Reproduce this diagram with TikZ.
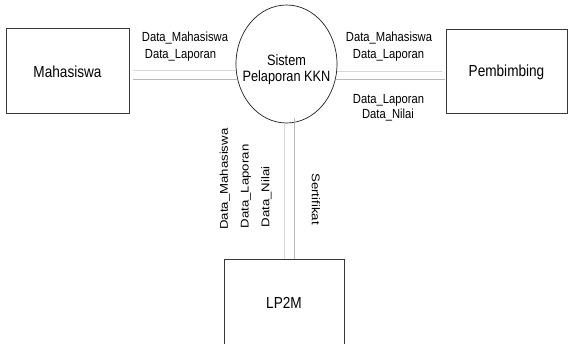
\documentclass[tikz,border=0pt]{standalone}
\usepackage{fontspec}
\setmainfont{Liberation Sans}[FakeStretch=0.85]
\newfontfamily\vfont{Liberation Sans}
\usetikzlibrary{shapes.geometric}
\definecolor{boxline}{RGB}{55,55,55}
\definecolor{procline}{RGB}{30,30,30}
\definecolor{flowc}{RGB}{185,185,185}
\definecolor{flowlc}{RGB}{215,215,215}
\newcommand{\vtxt}[1]{\scalebox{1}[0.85]{\vfont #1}}
\begin{document}
\begin{tikzpicture}[x=1pt,y=-1pt,
  entity/.style={draw=boxline, line width=0.8pt, inner sep=0pt, text depth=0pt, font=\fontsize{16}{18}\selectfont},
  proc/.style={ellipse, draw=procline, line width=0.7pt, inner sep=0pt, minimum width=101pt, minimum height=118pt},
  proctext/.style={inner sep=0pt, align=center, font=\fontsize{15}{16}\selectfont},
  flow/.style={draw=flowc, line width=0.7pt},
  flowlight/.style={draw=flowlc, line width=0.7pt},
  lbl/.style={inner sep=0pt, font=\fontsize{13.2}{15}\selectfont}]
\useasboundingbox (0,0) rectangle (568,343);
\clip (0,0) rectangle (568,343);
% entities
\node[entity, minimum width=123pt, minimum height=85pt, text height=13pt] (mhs) at (67.5,70.5) {Mahasiswa};
\node[entity, minimum width=121pt, minimum height=84pt, text height=11pt] (pb) at (506.5,71) {Pembimbing};
\node[entity, minimum width=120pt, minimum height=94pt, text height=5pt] (lp) at (284,306) {LP2M};
\node[proc] (sys) at (286.5,64) {};
\node[proctext] (systxt) at (286.5,69.5) {Sistem\\Pelaporan KKN};
% flows left
\coordinate (l1) at ([xshift=4pt]mhs.east);
\coordinate (l2) at ([xshift=4pt,yshift=-8.5pt]mhs.east);
\draw[flowlight] (l1) -- (l1 -| sys.188);
\draw[flow] (l2) -- (l2 -| sys.196);
% flows right
\coordinate (r1) at ([xshift=-4pt]pb.west);
\coordinate (r2) at ([xshift=-1pt,yshift=-8pt]pb.west);
\draw[flowlight] (r1) -- (r1 -| sys.352);
\draw[flow] (r2) -- (r2 -| sys.344);
% flows down
\coordinate (d1) at (lp.north);
\coordinate (d2) at ([xshift=10pt]lp.north);
\draw[flowlight] (d1) -- (d1 |- sys.south);
\draw[flow] (d2) -- (d2 |- sys.292);
% labels
\node[lbl] (t1) at (185,38) {Data\_Mahasiswa};
\node[lbl] (t2) at (180.5,55) {Data\_Laporan};
\node[lbl] (t3) at (389,38) {Data\_Mahasiswa};
\node[lbl] (t4) at (388.5,55) {Data\_Laporan};
\node[lbl] (t5) at (388.5,100) {Data\_Laporan};
\node[lbl] (t6) at (388,115) {Data\_Nilai};
\node[lbl, rotate=90, anchor=west] (t7) at (225,230) {\vtxt{Data\_Mahasiswa}};
\node[lbl, rotate=90, anchor=west] (t8) at (246,228.5) {\vtxt{Data\_Laporan}};
\node[lbl, rotate=90, anchor=west] (t9) at (266.5,227.5) {\vtxt{Data\_Nilai}};
\node[lbl, rotate=-90] (t10) at (316,199) {\vtxt{Sertifikat}};
\end{tikzpicture}
\end{document}
